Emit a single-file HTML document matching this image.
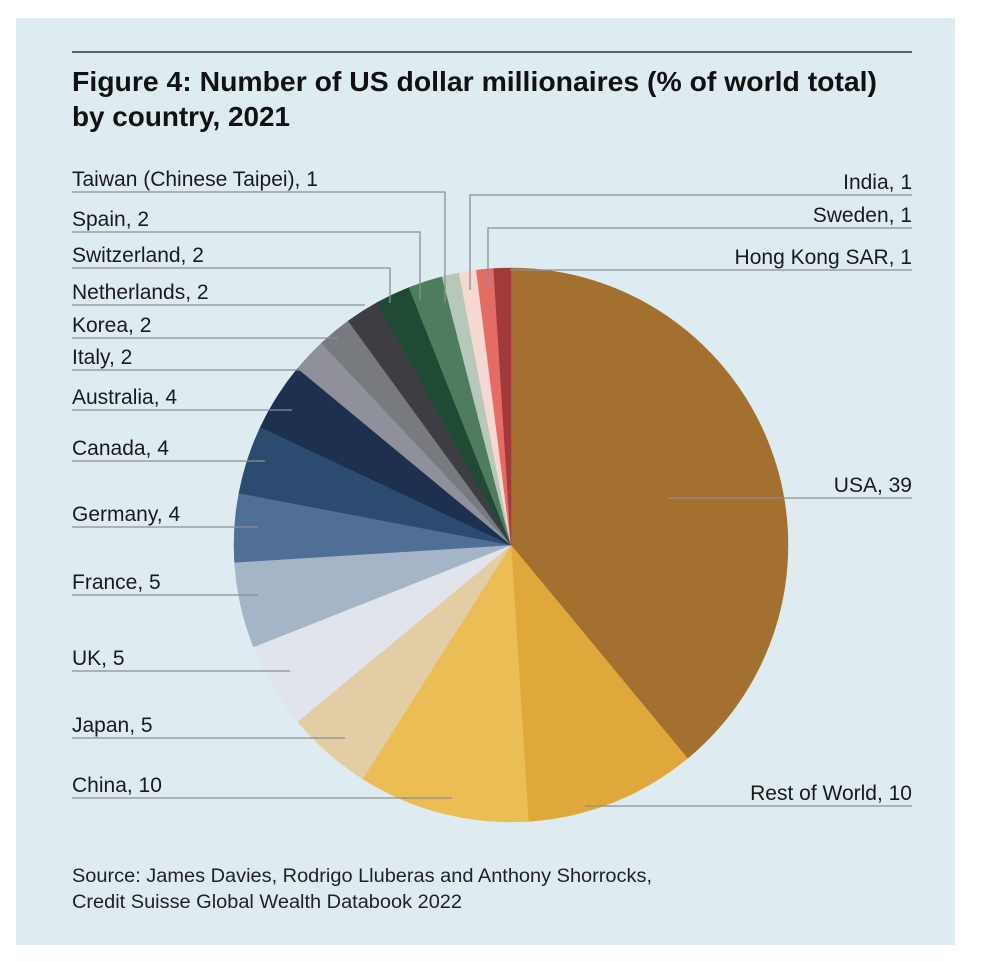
<!DOCTYPE html>
<html><head><meta charset="utf-8"><style>
body{margin:0;background:#fff;}
svg{display:block;font-family:"Liberation Sans",Arial,sans-serif;}
</style></head><body>
<svg width="986" height="961" viewBox="0 0 986 961">
<rect x="16" y="18" width="939" height="927" fill="#deebf1"/>
<line x1="72" y1="52" x2="912" y2="52" stroke="#333" stroke-width="1.5"/>
<text x="72" y="91" font-size="28" font-weight="bold" fill="#111" textLength="805" lengthAdjust="spacingAndGlyphs">Figure 4: Number of US dollar millionaires (% of world total)</text>
<text x="72" y="126" font-size="28" font-weight="bold" fill="#111" textLength="218" lengthAdjust="spacingAndGlyphs">by country, 2021</text>
<g id="pie"></g>
<g id="labels"></g>
<text x="72" y="882" font-size="19" fill="#222" textLength="580" lengthAdjust="spacingAndGlyphs">Source: James Davies, Rodrigo Lluberas and Anthony Shorrocks,</text>
<text x="72" y="908" font-size="19" fill="#222" textLength="390" lengthAdjust="spacingAndGlyphs">Credit Suisse Global Wealth Databook 2022</text>
</svg>
<script>
const categories=["USA","Rest of World","China","Japan","UK","France","Germany","Canada","Australia","Italy","Korea","Netherlands","Switzerland","Spain","Taiwan (Chinese Taipei)","India","Sweden","Hong Kong SAR"];
const values=[39,10,10,5,5,5,4,4,4,2,2,2,2,2,1,1,1,1];
const colors=["#a37030","#e0a83a","#ebbd55","#e3cda5","#e1e4ea","#a4b5c8","#4f6f96","#2c4b71","#1d3050","#8f9099","#777a7f","#3e3d43","#1f4a33","#4e7c5e","#b5c8b9","#f5d8d1","#e56c65","#a23a3c"];
// label layout: [textY, lineY, lineEndX, verticalEndY or null, side]
const layout={
"USA":[490,498,668,null,"r"],"Rest of World":[798,806,585,null,"r"],
"China":[789,798,452,null,"l"],"Japan":[729,738,345,null,"l"],"UK":[662,671,290,null,"l"],
"France":[586,595,258,null,"l"],"Germany":[519,527,258,null,"l"],"Canada":[453,461,265,null,"l"],
"Australia":[402,410,292,null,"l"],"Italy":[362,370,310,null,"l"],"Korea":[330,338,338,null,"l"],
"Netherlands":[296,305,365,null,"l"],"Switzerland":[259,268,390,303,"l"],"Spain":[223,232,420,300,"l"],
"Taiwan (Chinese Taipei)":[185,192,445,303,"l"],"India":[187,195,470,290,"r"],
"Sweden":[220,228,488,290,"r"],"Hong Kong SAR":[262,270,510,null,"r"]};
const cx=511,cy=545,R=277;
const NS="http://www.w3.org/2000/svg";
const total=values.reduce((a,b)=>a+b,0);
function angle(v){return v/total*2*Math.PI;}
function pt(a,r){return [cx+r*Math.sin(a),cy-r*Math.cos(a)];}
const pie=document.getElementById('pie'),labels=document.getElementById('labels');
let a0=0;
values.forEach((v,i)=>{
  const a1=a0+angle(v);
  const p0=pt(a0,R),p1=pt(a1,R);
  const large=(a1-a0)>Math.PI?1:0;
  const p=document.createElementNS(NS,'path');
  p.setAttribute('d',`M${cx},${cy} L${p0[0]},${p0[1]} A${R},${R} 0 ${large} 1 ${p1[0]},${p1[1]} Z`);
  p.setAttribute('fill',colors[i]);
  p.setAttribute('stroke',colors[i]);p.setAttribute('stroke-width','0.5');
  
  
  pie.appendChild(p);
  a0=a1;
});
categories.forEach((c,i)=>{
  const L=layout[c];
  const t=document.createElementNS(NS,'text');
  t.setAttribute('font-size','21');t.setAttribute('fill','#1a1a1a');
  t.setAttribute('y',L[1]-6);
  if(L[4]==='l'){t.setAttribute('x',72);}else{t.setAttribute('x',912);t.setAttribute('text-anchor','end');}
  t.textContent=c+', '+values[i];
  
  
  labels.appendChild(t);
  const pl=document.createElementNS(NS,'polyline');
  let pts;
  if(L[4]==='l'){pts=`72,${L[1]} ${L[2]},${L[1]}`+(L[3]?` ${L[2]},${L[3]}`:'');}
  else{pts=(L[3]?`${L[2]},${L[3]} `:'')+`${L[2]},${L[1]} 912,${L[1]}`;}
  pl.setAttribute('points',pts);pl.setAttribute('fill','none');
  pl.setAttribute('stroke','#8a8f92');pl.setAttribute('stroke-width','1.3');
  
  
  labels.appendChild(pl);
});
</script>
</body></html>
